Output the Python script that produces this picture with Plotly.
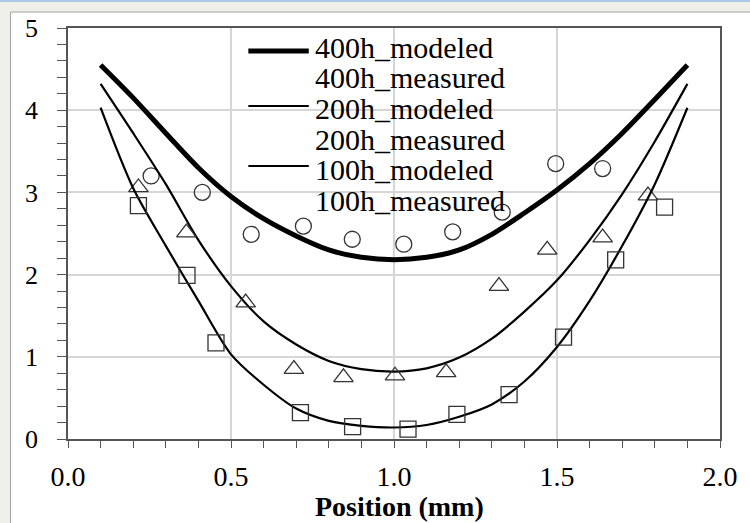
import plotly.graph_objects as go

# ---------------- data ----------------
x_model = [0.1, 0.2, 0.3, 0.4, 0.5, 0.6, 0.7, 0.8, 0.9, 1.0,
           1.1, 1.2, 1.3, 1.4, 1.5, 1.6, 1.7, 1.8, 1.9]
y_400_model = [4.55, 4.15, 3.72, 3.30, 2.95, 2.68, 2.47, 2.30, 2.21, 2.18,
               2.21, 2.30, 2.49, 2.75, 3.03, 3.35, 3.72, 4.13, 4.55]
y_200_model = [4.32, 3.72, 3.10, 2.42, 1.86, 1.43, 1.15, 0.95, 0.85, 0.82,
               0.86, 0.99, 1.22, 1.55, 1.93, 2.42, 2.98, 3.62, 4.32]
y_100_model = [4.03, 3.05, 2.35, 1.68, 1.03, 0.66, 0.37, 0.22, 0.16, 0.14,
               0.17, 0.27, 0.42, 0.70, 1.12, 1.68, 2.35, 3.10, 4.03]

x_400_meas = [0.255, 0.412, 0.562, 0.722, 0.872, 1.03, 1.18, 1.332, 1.496, 1.64]
y_400_meas = [3.20, 3.00, 2.49, 2.59, 2.43, 2.37, 2.52, 2.76, 3.35, 3.29]

x_200_meas = [0.216, 0.363, 0.545, 0.693, 0.845, 1.003, 1.16, 1.322, 1.47, 1.64, 1.779]
y_200_meas = [3.06, 2.51, 1.66, 0.85, 0.75, 0.77, 0.81, 1.86, 2.30, 2.45, 2.96]

x_100_meas = [0.216, 0.365, 0.454, 0.713, 0.873, 1.043, 1.193, 1.353, 1.52, 1.68, 1.83]
y_100_meas = [2.84, 1.99, 1.17, 0.32, 0.15, 0.12, 0.30, 0.54, 1.24, 2.18, 2.82]

legend_names = ["400h_modeled", "400h_measured", "200h_modeled",
                "200h_measured", "100h_modeled", "100h_measured"]
x_title = "Position (mm)"
x_ticks = [0.0, 0.5, 1.0, 1.5, 2.0]
x_tick_text = ["0.0", "0.5", "1.0", "1.5", "2.0"]
y_ticks = [0, 1, 2, 3, 4, 5]

# ---------------- layout geometry (pixels) ----------------
W, H = 750, 523
L, R, T, B = 68, 24, 28, 84
PW, PH = W - L - R, H - T - B
FONT = "Liberation Serif"


def px(xp):
    return (xp - L) / PW


def py(yp):
    return (H - B - yp) / PH


fig = go.Figure()

fig.add_trace(go.Scatter(x=x_model, y=y_400_model, mode="lines", name=legend_names[0],
                         line=dict(color="black", width=5, shape="spline", smoothing=0.8)))
fig.add_trace(go.Scatter(x=x_400_meas, y=y_400_meas, mode="markers", name=legend_names[1],
                         marker=dict(symbol="circle-open", size=16, color="#333",
                                     line=dict(width=1.3))))
fig.add_trace(go.Scatter(x=x_model, y=y_200_model, mode="lines", name=legend_names[2],
                         line=dict(color="black", width=2.2, shape="spline", smoothing=0.8)))
fig.add_trace(go.Scatter(x=x_200_meas, y=y_200_meas, mode="markers", name=legend_names[3],
                         marker=dict(symbol="triangle-up-open", size=17, color="#333",
                                     line=dict(width=1.3))))
fig.add_trace(go.Scatter(x=x_model, y=y_100_model, mode="lines", name=legend_names[4],
                         line=dict(color="black", width=2.2, shape="spline", smoothing=0.8)))
fig.add_trace(go.Scatter(x=x_100_meas, y=y_100_meas, mode="markers", name=legend_names[5],
                         marker=dict(symbol="square-open", size=16, color="#333",
                                     line=dict(width=1.3))))

shapes = []
# white chart area with thin grey border (window frame look)
shapes.append(dict(type="rect", xref="paper", yref="paper", layer="below",
                   x0=px(10), x1=px(760), y0=py(530), y1=py(12),
                   fillcolor="white", line=dict(color="#a0a0a0", width=1)))
# top blue window line
shapes.append(dict(type="line", xref="paper", yref="paper", layer="below",
                   x0=px(-5), x1=px(760), y0=py(1), y1=py(1),
                   line=dict(color="#a9c7e8", width=2)))

# manual legend (line samples + text)
legend_rows_y = [47, 78, 108, 139, 169, 200]
legend_line_y = {0: 51, 2: 106, 4: 166}
legend_line_w = {0: 5, 2: 2.2, 4: 2.2}
for i, yl in legend_line_y.items():
    shapes.append(dict(type="line", xref="paper", yref="paper",
                       x0=px(250), x1=px(311), y0=py(yl), y1=py(yl),
                       line=dict(color="black", width=legend_line_w[i])))

annotations = []
for name, yr in zip(legend_names, legend_rows_y):
    annotations.append(dict(text=name, xref="paper", yref="paper",
                            x=px(315), y=py(yr), xanchor="left", yanchor="middle",
                            showarrow=False, font=dict(family=FONT, size=30, color="black")))
# x axis title
annotations.append(dict(text="<b>" + x_title + "</b>", xref="paper", yref="paper",
                        x=px(403), y=py(523), xanchor="center", yanchor="bottom",
                        borderpad=0, showarrow=False,
                        font=dict(family=FONT, size=28, color="black")))

fig.update_layout(
    width=W, height=H,
    margin=dict(l=L, r=R, t=T, b=B, pad=0),
    paper_bgcolor="#f0f0eb",
    plot_bgcolor="white",
    showlegend=False,
    shapes=shapes,
    annotations=annotations,
    font=dict(family=FONT, color="black"),
)

fig.update_xaxes(
    range=[0, 2], tickvals=x_ticks, ticktext=x_tick_text,
    showline=True, linecolor="#555", linewidth=1.5, mirror=True,
    ticks="outside", ticklen=7, tickcolor="#555", tickwidth=1.2,
    minor=dict(dtick=0.1, ticks="outside", ticklen=7, tickcolor="#555", tickwidth=1.2,
               showgrid=False),
    showgrid=True, gridcolor="#d6d6d6", gridwidth=1.5,
    zeroline=False,
    tickfont=dict(family=FONT, size=28, color="black"),
    ticklabelstandoff=5,
)
fig.update_yaxes(
    range=[0, 5], tickvals=y_ticks,
    showline=True, linecolor="#555", linewidth=1.5, mirror=True,
    ticks="outside", ticklen=9, tickcolor="#555", tickwidth=1.2,
    minor=dict(dtick=0.2, ticks="outside", ticklen=9, tickcolor="#555", tickwidth=1.2,
               showgrid=False),
    showgrid=True, gridcolor="#d6d6d6", gridwidth=1.5,
    zeroline=False,
    tickfont=dict(family=FONT, size=26, color="black"),
    ticklabelstandoff=14,
)

fig.write_html("out.html")
